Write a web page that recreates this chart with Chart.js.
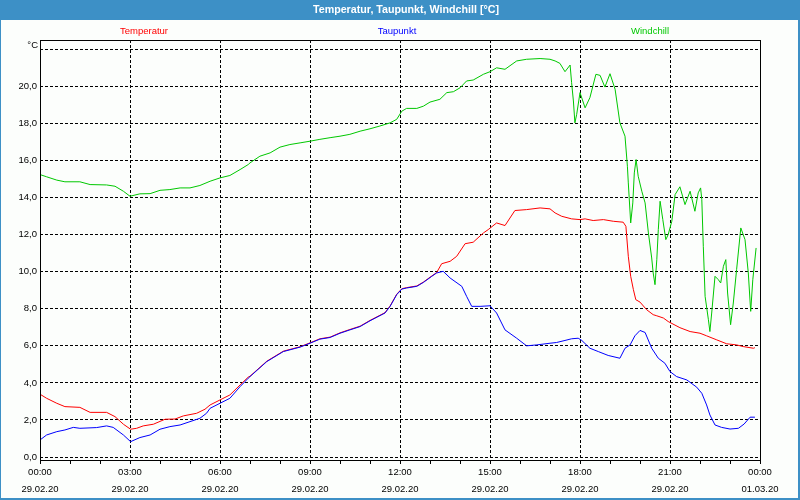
<!DOCTYPE html>
<html><head><meta charset="utf-8">
<script src="https://cdn.jsdelivr.net/npm/chart.js@4"></script>
<style>html,body{margin:0;padding:0;background:#fff;}canvas{display:block}</style>
</head><body>
<canvas id="c" width="800" height="500"></canvas>
<script>
// ---------- texts ----------
const chartTitle = 'Temperatur, Taupunkt, Windchill [°C]';
const seriesNames = ['Temperatur', 'Taupunkt', 'Windchill'];
const yUnit = '°C';

// ---------- axis ticks ----------
const xTickHours = [0, 3, 6, 9, 12, 15, 18, 21, 24];
const xTickTimes = ['00:00', '03:00', '06:00', '09:00', '12:00', '15:00', '18:00', '21:00', '00:00'];
const xTickDates = ['29.02.20', '29.02.20', '29.02.20', '29.02.20', '29.02.20', '29.02.20', '29.02.20', '29.02.20', '01.03.20'];
const yTickValues = [0, 2, 4, 6, 8, 10, 12, 14, 16, 18, 20];

// ---------- series (hours since 29.02.20 00:00, °C) ----------
const tempHours = [0.00,0.22,0.56,0.83,1.33,1.67,2.22,2.50,2.78,3.02,3.22,3.44,3.78,4.17,4.50,4.78,5.22,5.50,5.67,6.00,6.33,6.67,6.94,
  7.00,7.56,8.11,8.67,9.00,9.33,9.67,10.00,10.33,10.67,11.00,11.50,11.67,11.89,12.06,12.22,12.56,12.78,13.06,13.22,
  13.39,13.67,13.89,14.17,14.44,14.78,14.94,15.22,15.50,15.83,16.22,16.67,17.00,17.17,17.39,17.72,18.00,18.17,18.44,18.78,19.11,19.44,19.53,
  19.61,19.69,19.78,19.86,20.00,20.22,20.44,20.56,20.78,20.94,21.33,21.67,22.00,22.22,22.56,22.89,23.22,23.44,23.78,23.83];
const tempValues = [3.39,3.17,2.90,2.72,2.68,2.41,2.41,2.18,1.77,1.50,1.55,1.68,1.77,2.04,2.05,2.22,2.36,2.58,2.81,3.08,3.35,3.89,4.31,
  4.36,5.17,5.71,5.95,6.16,6.38,6.47,6.70,6.88,7.06,7.37,7.79,8.15,8.78,9.08,9.14,9.23,9.44,9.77,9.95,
  10.43,10.56,10.83,11.51,11.59,12.09,12.27,12.63,12.49,13.30,13.35,13.44,13.39,13.17,12.99,12.85,12.81,12.85,12.76,12.81,12.72,12.67,12.45,
  10.83,9.75,9.03,8.49,8.36,7.95,7.68,7.62,7.50,7.31,6.98,6.77,6.68,6.54,6.32,6.11,6.05,5.96,5.87,5.90];

const dewHours = [0.00,0.22,0.56,0.83,1.11,1.33,1.89,2.22,2.44,2.78,3.02,3.33,3.67,4.00,4.33,4.67,5.00,5.33,5.55,5.67,6.00,6.33,6.67,6.94,
  7.00,7.56,8.11,8.67,9.00,9.33,9.67,10.00,10.33,10.67,11.00,11.50,11.67,11.89,12.06,12.22,12.56,12.78,13.06,13.22,
  13.44,13.67,14.06,14.22,14.39,14.67,15.00,15.22,15.50,15.89,16.22,16.56,17.00,17.22,17.50,17.72,17.94,18.06,18.33,18.61,18.94,19.33,
  19.50,19.67,19.83,20.00,20.17,20.39,20.61,20.83,21.00,21.22,21.56,21.89,22.06,22.22,22.33,22.50,22.72,23.00,23.28,23.47,23.67,23.83];
const dewValues = [0.92,1.19,1.37,1.46,1.60,1.55,1.59,1.68,1.60,1.19,0.83,1.05,1.19,1.50,1.64,1.73,1.91,2.09,2.36,2.63,2.90,3.17,3.80,4.25,
  4.34,5.15,5.69,5.93,6.14,6.36,6.45,6.68,6.86,7.04,7.35,7.77,8.13,8.76,9.06,9.12,9.21,9.42,9.75,9.93,
  10.02,9.66,9.21,8.67,8.13,8.13,8.16,7.77,6.86,6.41,6.00,6.05,6.14,6.18,6.29,6.38,6.41,6.29,5.87,5.69,5.48,5.33,
  5.87,6.05,6.54,6.83,6.72,5.87,5.33,5.06,4.61,4.34,4.16,3.77,3.44,2.81,2.27,1.73,1.60,1.51,1.55,1.78,2.15,2.15];

const windHours = [0.00,0.22,0.56,0.83,1.33,1.67,2.22,2.50,2.78,3.00,3.33,3.67,4.00,4.33,4.67,5.00,5.33,5.67,6.00,6.33,6.67,6.94,
  7.00,7.33,7.67,8.00,8.33,8.67,9.00,9.33,9.67,10.00,10.33,10.67,11.00,11.33,11.67,11.89,12.06,12.22,12.56,12.78,13.00,13.33,13.56,13.78,
  14.00,14.22,14.44,14.78,15.00,15.22,15.50,15.89,16.22,16.67,17.00,17.17,17.33,17.50,17.67,17.72,17.78,17.83,17.89,18.00,18.17,18.33,
  18.53,18.67,18.83,19.00,19.17,19.33,19.50,19.58,19.61,19.69,19.76,19.81,19.87,19.94,20.06,20.17,20.28,20.39,20.44,20.50,20.56,20.61,
  20.67,20.76,20.86,20.94,21.06,21.17,21.33,21.50,21.67,21.83,21.94,22.02,22.06,22.11,22.17,22.28,22.33,22.39,22.50,22.61,22.69,22.78,
  22.86,22.92,23.02,23.11,23.22,23.36,23.50,23.61,23.69,23.76,23.87];
const windValues = [15.24,15.12,14.94,14.85,14.85,14.70,14.68,14.61,14.34,14.07,14.20,14.21,14.39,14.43,14.52,14.52,14.65,14.88,15.06,15.19,15.51,15.78,
  15.87,16.23,16.41,16.72,16.86,16.95,17.04,17.14,17.23,17.31,17.41,17.58,17.71,17.86,18.03,18.22,18.66,18.81,18.81,18.93,19.15,19.30,19.66,19.71,
  19.92,20.29,20.34,20.65,20.79,21.00,20.92,21.37,21.46,21.50,21.46,21.37,21.24,20.79,21.15,20.20,19.21,18.03,18.49,19.66,18.84,19.39,
  20.65,20.59,19.96,20.68,19.84,18.03,17.31,15.69,14.79,12.63,13.71,15.33,16.05,15.15,14.34,13.71,12.09,10.74,9.93,9.30,10.65,12.27,
  13.80,12.81,11.73,12.00,12.72,14.16,14.58,13.62,14.34,13.26,14.25,14.52,13.89,11.37,8.67,7.41,6.77,7.77,9.75,9.57,9.39,10.29,
  10.65,8.85,7.14,8.31,10.11,12.36,11.73,9.93,7.86,9.57,11.28];

// ---------- styling ----------
const COLORS = ['#ff0000', '#0000ff', '#00c800'];
const FRAME_BLUE = '#3d90c6';
const FONT = '"Liberation Sans", Arial, sans-serif';

function pts(hs, vs) { return hs.map((h, i) => ({ x: h, y: vs[i] })); }

const decor = {
  id: 'decor',
  beforeDraw(chart) {
    const ctx = chart.ctx;
    ctx.save();
    ctx.fillStyle = '#fcfefc';
    ctx.fillRect(0, 0, 800, 500);
    ctx.fillStyle = FRAME_BLUE;
    ctx.fillRect(0, 0, 800, 20);
    ctx.fillRect(0, 0, 1, 500);
    ctx.fillRect(798, 0, 2, 500);
    ctx.fillRect(0, 498, 800, 2);
    ctx.fillStyle = '#ffffff';
    ctx.font = 'bold 10.7px ' + FONT;
    ctx.textAlign = 'center';
    ctx.textBaseline = 'middle';
    ctx.fillText(chartTitle, 406, 10);
    ctx.font = '9.5px ' + FONT;
    const lx = [144, 397, 650];
    chart.data.datasets.forEach((ds, i) => {
      ctx.fillStyle = ds.borderColor;
      ctx.fillText(ds.label, lx[i], 31);
    });
    ctx.fillStyle = '#000';
    ctx.textAlign = 'right';
    ctx.fillText(yUnit, 38, 45);
    ctx.restore();
  },
  afterDraw(chart) {
    const a = chart.chartArea, ctx = chart.ctx;
    ctx.save();
    ctx.strokeStyle = '#000';
    ctx.lineWidth = 1;
    ctx.strokeRect(Math.round(a.left) + 0.5, Math.round(a.top) + 0.5, Math.round(a.right - a.left), Math.round(a.bottom - a.top));
    ctx.restore();
  }
};

new Chart(document.getElementById('c'), {
  type: 'line',
  data: {
    datasets: [
      { label: seriesNames[0], data: pts(tempHours, tempValues), borderColor: COLORS[0], order: 1 },
      { label: seriesNames[1], data: pts(dewHours, dewValues), borderColor: COLORS[1], order: 0 },
      { label: seriesNames[2], data: pts(windHours, windValues), borderColor: COLORS[2], order: 2 }
    ]
  },
  options: {
    responsive: false,
    animation: false,
    parsing: false,
    layout: { padding: { left: 0, right: 40, top: 40, bottom: 0 } },
    elements: {
      line: { borderWidth: 1, tension: 0, fill: false },
      point: { radius: 0, hoverRadius: 0 }
    },
    plugins: { legend: { display: false }, title: { display: false }, tooltip: { enabled: false } },
    events: [],
    scales: {
      x: {
        type: 'linear', min: 0, max: 24,
        afterFit: s => { s.height = 40; },
        border: { display: false, dash: [3, 2] },
        grid: {
          color: c => (c.tick && c.tick.value % 3 === 0 && c.tick.value > 0 && c.tick.value < 24) ? '#000' : 'rgba(0,0,0,0)',
          tickColor: '#000', tickLength: 4, lineWidth: 1, drawTicks: true
        },
        ticks: {
          stepSize: 1, autoSkip: false, maxRotation: 0, padding: 0, color: '#000',
          font: { family: FONT, size: 9.5, lineHeight: 17 / 9.5 },
          callback: v => { const i = xTickHours.indexOf(v); return i >= 0 ? [xTickTimes[i], xTickDates[i]] : ''; }
        }
      },
      y: {
        type: 'linear', min: -0.16, max: 22.5,
        afterFit: s => { s.width = 40; },
        border: { display: false, dash: [3, 2] },
        grid: { color: '#000', lineWidth: 1, drawTicks: false },
        ticks: {
          stepSize: 2, includeBounds: false, padding: 3, color: '#000',
          font: { family: FONT, size: 9.5 },
          callback: v => yTickValues.includes(v) ? v.toFixed(1).replace('.', ',') : ''
        }
      }
    }
  },
  plugins: [decor]
});
</script>
</body></html>
